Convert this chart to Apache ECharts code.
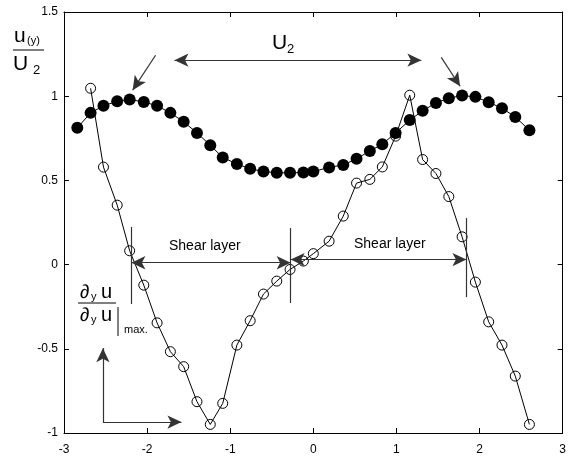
<!DOCTYPE html>
<html>
<head>
<meta charset="utf-8">
<script src="https://cdn.jsdelivr.net/npm/echarts@6/dist/echarts.min.js"></script>
<style>
  html, body { margin: 0; padding: 0; background: #fff; }
  #main { width: 569px; height: 456px; }
</style>
</head>
<body>
<div id="main"></div>
<script>
// y positions across the layer (x axis)
var ySpan = [-2.84,-2.68,-2.525,-2.36,-2.21,-2.04,-1.88,-1.72,-1.56,-1.40,-1.24,-1.09,-0.92,-0.76,-0.60,-0.44,-0.28,-0.12,0.00,0.19,0.36,0.52,0.68,0.83,0.99,1.16,1.315,1.475,1.63,1.79,1.95,2.11,2.27,2.43,2.60];
// u(y)/U2, filled dots
var uProfile = [0.812,0.901,0.943,0.970,0.980,0.966,0.943,0.901,0.848,0.782,0.709,0.636,0.598,0.569,0.553,0.545,0.545,0.547,0.553,0.577,0.592,0.628,0.675,0.715,0.782,0.858,0.913,0.960,0.988,1.004,0.996,0.964,0.929,0.877,0.798];
// du/dy normalised, open circles (starts at second y position)
var gradProfile = [1.047,0.579,0.353,0.082,-0.122,-0.346,-0.517,-0.606,-0.814,-0.949,-0.824,-0.478,-0.333,-0.175,-0.098,-0.029,0.021,0.065,0.139,0.288,0.484,0.506,0.580,0.763,1.006,0.624,0.541,0.404,0.165,-0.104,-0.340,-0.478,-0.662,-0.949];
var xTicks = [-3, 3, 1];
var yTicks = [-1, 1.5, 0.5];

var chart = echarts.init(document.getElementById('main'));

var uData = ySpan.map(function (y, i) { return [y, uProfile[i]]; });
var gData = gradProfile.map(function (v, i) { return [ySpan[i + 1], v]; });

function seg(a, b, s1, s2) {
  return [{ coord: a, symbol: s1 }, { coord: b, symbol: s2 }];
}

var FONT = 'Liberation Sans, Arial, sans-serif';

var axisCommon = {
  type: 'value',
  axisLine: { show: true, onZero: false, lineStyle: { color: '#000', width: 1 } },
  axisTick: { show: true, inside: true, length: 5, lineStyle: { color: '#000' } },
  splitLine: { show: false }
};

var option = {
  animation: false,
  grid: { left: 64, right: 4, top: 12, bottom: 23, containLabel: false },
  xAxis: [
    Object.assign({}, axisCommon, {
      min: xTicks[0], max: xTicks[1], interval: xTicks[2], position: 'bottom',
      axisLabel: { color: '#000', fontSize: 12, fontFamily: FONT, margin: 11 }
    }),
    Object.assign({}, axisCommon, {
      min: xTicks[0], max: xTicks[1], interval: xTicks[2], position: 'top',
      axisLabel: { show: false }
    })
  ],
  yAxis: [
    Object.assign({}, axisCommon, {
      min: yTicks[0], max: yTicks[1], interval: yTicks[2], position: 'left',
      axisLabel: { color: '#000', fontSize: 12, fontFamily: FONT, margin: 6 }
    }),
    Object.assign({}, axisCommon, {
      min: yTicks[0], max: yTicks[1], interval: yTicks[2], position: 'right',
      axisLabel: { show: false }
    })
  ],
  series: [
    {
      name: 'u', type: 'line', data: uData,
      symbol: 'circle', symbolSize: 12,
      itemStyle: { color: '#000' },
      lineStyle: { color: '#000', width: 1 },
      z: 3
    },
    {
      name: 'du', type: 'line', data: gData,
      symbol: 'circle', symbolSize: 10,
      itemStyle: { color: 'rgba(0,0,0,0)', borderColor: '#000', borderWidth: 1 },
      lineStyle: { color: '#000', width: 1 },
      z: 4,
      markLine: {
        silent: true,
        symbolSize: [10, 14],
        label: { show: false },
        lineStyle: { type: 'solid', color: '#333', width: 1.2 },
        data: [
          seg([-1.671, 1.214], [1.30, 1.214], 'arrow', 'arrow'),
          seg([-1.898, 1.243], [-2.174, 1.036], 'none', 'arrow'),
          seg([1.539, 1.231], [1.766, 1.059], 'none', 'arrow'),
          seg([-2.189, 0.223], [-2.189, -0.234], 'none', 'none'),
          seg([-0.273, 0.217], [-0.273, -0.228], 'none', 'none'),
          seg([1.842, 0.276], [1.842, -0.193], 'none', 'none'),
          seg([-2.189, 0.011], [-0.273, 0.011], 'arrow', 'arrow'),
          seg([-0.273, 0.030], [1.842, 0.030], 'arrow', 'arrow'),
          seg([-2.532, -0.935], [-2.532, -0.496], 'none', 'arrow'),
          seg([-2.532, -0.935], [-1.587, -0.935], 'none', 'arrow')
        ]
      }
    }
  ],
  graphic: [
    { type: 'text', left: 272, top: 33, style: { text: 'U', font: '21px ' + FONT, fill: '#000' } },
    { type: 'text', left: 287, top: 43, style: { text: '2', font: '13px ' + FONT, fill: '#000' } },
    { type: 'text', left: 169, top: 239, style: { text: 'Shear layer', font: '14px ' + FONT, fill: '#000' } },
    { type: 'text', left: 354, top: 237, style: { text: 'Shear layer', font: '14px ' + FONT, fill: '#000' } },
    // u(y)/U2 label
    { type: 'text', left: 14, top: 26, style: { text: 'u', font: '21px ' + FONT, fill: '#000' } },
    { type: 'text', left: 27, top: 35, style: { text: '(y)', font: '11px ' + FONT, fill: '#000' } },
    { type: 'line', shape: { x1: 13, y1: 50, x2: 44, y2: 50 }, style: { stroke: '#000', lineWidth: 1 } },
    { type: 'text', left: 13, top: 54, style: { text: 'U', font: '21px ' + FONT, fill: '#000' } },
    { type: 'text', left: 33, top: 64, style: { text: '2', font: '13px ' + FONT, fill: '#000' } },
    // du/dy label
    { type: 'text', left: 80, top: 283, style: { text: '\u2202', font: '19px ' + FONT, fill: '#000' } },
    { type: 'text', left: 91, top: 291, style: { text: 'y', font: '11px ' + FONT, fill: '#000' } },
    { type: 'text', left: 101, top: 282, style: { text: 'u', font: '20px ' + FONT, fill: '#000' } },
    { type: 'line', shape: { x1: 78, y1: 303, x2: 116, y2: 303 }, style: { stroke: '#000', lineWidth: 1 } },
    { type: 'text', left: 80, top: 306, style: { text: '\u2202', font: '19px ' + FONT, fill: '#000' } },
    { type: 'text', left: 91, top: 314, style: { text: 'y', font: '11px ' + FONT, fill: '#000' } },
    { type: 'text', left: 101, top: 305, style: { text: 'u', font: '20px ' + FONT, fill: '#000' } },
    { type: 'line', shape: { x1: 118, y1: 307, x2: 118, y2: 336 }, style: { stroke: '#000', lineWidth: 1 } },
    { type: 'text', left: 124, top: 324, style: { text: 'max.', font: '11px ' + FONT, fill: '#000' } }
  ]
};

chart.setOption(option);
</script>
</body>
</html>
